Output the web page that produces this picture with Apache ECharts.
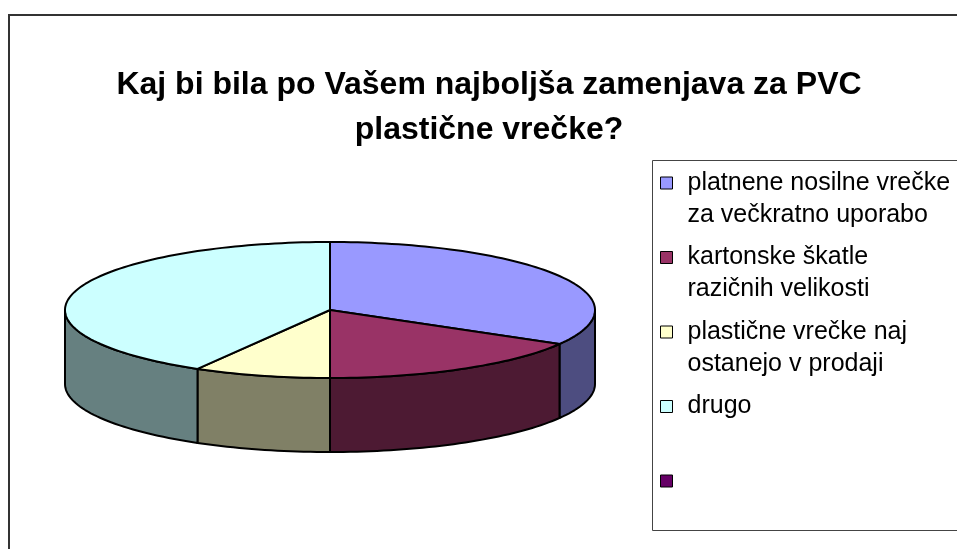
<!DOCTYPE html>
<html>
<head>
<meta charset="utf-8">
<script src="https://cdn.jsdelivr.net/npm/echarts@6/dist/echarts.min.js"></script>
<style>
  html, body { margin: 0; padding: 0; background: #fff; }
  #chart { width: 957px; height: 549px; }
</style>
</head>
<body>
<div id="chart"></div>
<script>
// data
const categories = [
  'platnene nosilne vrečke\nza večkratno uporabo',
  'kartonske škatle\nrazičnih velikosti',
  'plastične vrečke naj\nostanejo v prodaji',
  'drugo'
]
const values = [8, 4, 2, 10]
const titleText = 'Kaj bi bila po Vašem najboljša zamenjava za PVC\nplastične vrečke?'

// excel palette (top face / darker side face)
const topColors = ['#9999FF', '#993366', '#FFFFCC', '#CCFFFF', '#660066']
const sideColors = ['#4D4D80', '#4D1A33', '#808066', '#668080']
const emptyName = 'ostalo'

const font = '"Liberation Sans", Arial, sans-serif'

// pie geometry
const cx = 330, cy = 310, rx = 265, ry = 68, depth = 74

function pt(a, dz) {
  return [cx + rx * Math.sin(a), cy - ry * Math.cos(a) + dz]
}
function arc(a0, a1, dz) {
  const n = Math.max(2, Math.ceil((a1 - a0) / (Math.PI / 120)))
  const pts = []
  for (let i = 0; i <= n; i++) pts.push(pt(a0 + (a1 - a0) * i / n, dz))
  return pts
}

function renderSlice(params, api) {
  const k = params.seriesIndex
  const total = values.reduce((p, c) => p + c, 0)
  let start = 0
  for (let i = 0; i < k; i++) start += values[i]
  const a0 = start / total * Math.PI * 2
  const a1 = (start + api.value(0)) / total * Math.PI * 2
  const children = []
  // visible side (front half only)
  const s0 = Math.max(a0, Math.PI / 2)
  const s1 = Math.min(a1, Math.PI * 1.5)
  if (s1 > s0) {
    const pts = arc(s0, s1, 0).concat(arc(s0, s1, depth).reverse())
    children.push({
      type: 'polygon',
      z2: 1,
      shape: { points: pts },
      style: { fill: sideColors[k], stroke: '#000', lineWidth: 2, lineJoin: 'round' }
    })
  }
  children.push({
    type: 'polygon',
    z2: 10,
    shape: { points: [[cx, cy]].concat(arc(a0, a1, 0)) },
    style: { fill: topColors[k], stroke: '#000', lineWidth: 2, lineJoin: 'round' }
  })
  return { type: 'group', children: children }
}

const series = categories.map((name, i) => ({
  type: 'custom',
  name: name,
  coordinateSystem: 'none',
  silent: true,
  itemStyle: { color: topColors[i] },
  renderItem: renderSlice,
  data: [[values[i]]]
}))
series.push({
  type: 'custom',
  name: emptyName,
  coordinateSystem: 'none',
  itemStyle: { color: topColors[4] },
  renderItem: () => ({ type: 'group', children: [] }),
  data: []
})

const chart = echarts.init(document.getElementById('chart'), null, { renderer: 'canvas' })
chart.setOption({
  backgroundColor: '#fff',
  animation: false,
  title: {
    text: titleText,
    left: 484,
    top: 58,
    textAlign: 'center',
    textStyle: { fontFamily: font, fontSize: 32, fontWeight: 'bold', color: '#000', lineHeight: 45 }
  },
  legend: {
    orient: 'vertical',
    left: 660,
    top: 135,
    padding: 0,
    itemWidth: 12,
    itemHeight: 12,
    itemGap: -21.5,
    icon: 'rect',
    selectedMode: false,
    itemStyle: { borderColor: '#000', borderWidth: 1 },
    textStyle: { fontFamily: font, fontSize: 25, lineHeight: 32, color: '#000', padding: [0, 0, 0, 10] },
    formatter: name => {
      if (name === emptyName) return '\n \n'
      return name.indexOf('\n') >= 0 ? '\n' + name : '\n' + name + '\n'
    },
    data: categories.concat([emptyName])
  },
  graphic: [
    {
      type: 'rect',
      z: -1,
      shape: { x: 9, y: 15, width: 1000, height: 600 },
      style: { fill: 'none', stroke: '#333', lineWidth: 2 }
    },
    {
      type: 'rect',
      z: -1,
      shape: { x: 652.5, y: 160.5, width: 400, height: 370 },
      style: { fill: 'none', stroke: '#444', lineWidth: 1 }
    }
  ],
  series: series
})
</script>
</body>
</html>
